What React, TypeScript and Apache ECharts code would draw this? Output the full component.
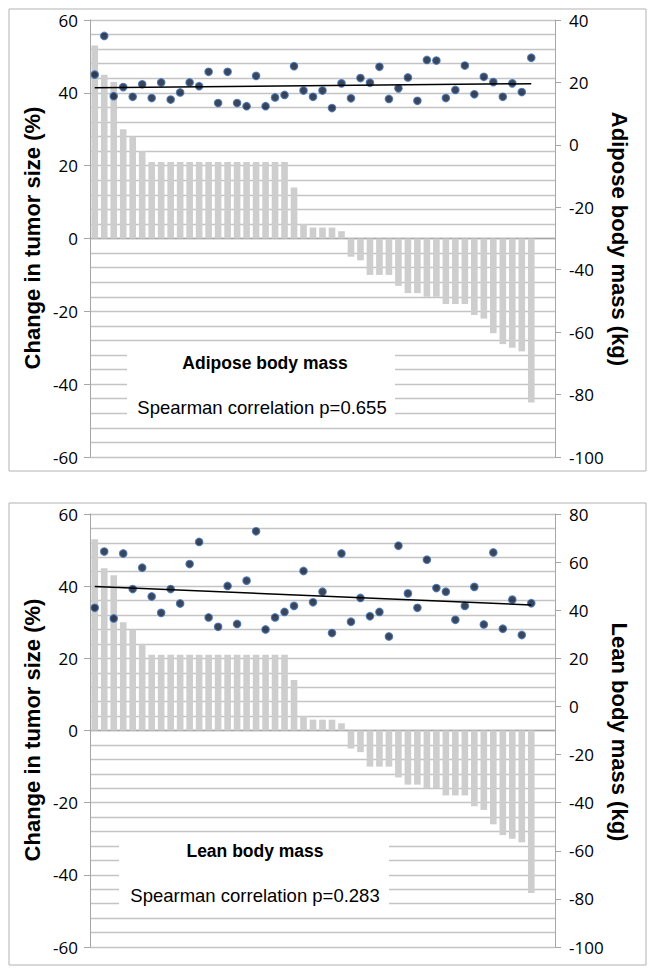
import React, { useEffect, useRef } from "react";
import * as echarts from "echarts";

const categories = Array.from({ length: 49 }, (_, i) => String(i + 1));

const tumorChange = [
  53, 45, 43, 30, 28, 24, 21, 21, 21, 21, 21, 21, 21, 21, 21, 21, 21, 21, 21, 21, 21,
  14, 4, 3, 3, 3, 2, -5, -6, -10, -10, -10, -13, -15, -15, -16, -16, -18, -18, -18,
  -21, -22, -26, -29, -30, -31, -45,
];

const adiposeMass = [
  22.5, 34.9, 15.6, 18.5, 15.4, 19.4, 15.0, 20.0, 14.5, 16.8,
  20.0, 18.8, 23.4, 13.4, 23.4, 13.4, 12.4, 22.1, 12.4, 15.2,
  16.0, 25.2, 17.4, 15.4, 17.4, 11.8, 19.7, 14.9, 21.4, 19.9,
  25.0, 14.7, 18.1, 21.6, 14.1, 27.2, 27.0, 15.0, 17.6, 25.4,
  16.2, 21.8, 20.1, 15.4, 19.7, 16.9, 27.9,
];

const leanMass = [
  41.0, 64.4, 36.6, 63.6, 48.8, 57.7, 45.7, 38.9, 48.8, 42.8,
  59.2, 68.4, 37.0, 33.1, 50.1, 34.3, 52.3, 72.8, 32.0, 37.0,
  39.3, 41.8, 56.3, 43.3, 47.7, 30.5, 63.6, 35.2, 45.1, 37.5,
  39.3, 29.1, 66.8, 47.0, 41.0, 61.0, 49.2, 47.7, 36.0, 41.8,
  49.7, 34.1, 64.0, 32.3, 44.4, 29.7, 42.9,
];

// trend line end values (first and last patient)
const adiposeTrend = [18.3, 19.6];
const leanTrend = [49.9, 42.2];

const leftTicks = { min: -60, max: 60, interval: 20 };
const adiposeTicks = { min: -100, max: 40, interval: 20 };
const leanTicks = { min: -100, max: 80, interval: 20 };

const GRID_COLOR = "#c4c4c4";
const AXIS_COLOR = "#a6a6a6";
const LABEL_FONT = "Open Sans";

function leftAxis(gridIndex: number) {
  return {
    type: "value",
    gridIndex,
    position: "left",
    ...leftTicks,
    axisLine: { show: true, lineStyle: { color: AXIS_COLOR, width: 1 } },
    axisTick: { show: true, length: 6, lineStyle: { color: AXIS_COLOR } },
    axisLabel: { fontSize: 17, color: "#000", fontFamily: LABEL_FONT, margin: 12 },
    splitLine: { show: true, lineStyle: { color: GRID_COLOR, width: 1.4 } },
    minorTick: { show: false, splitNumber: 5 },
    minorSplitLine: { show: true, lineStyle: { color: GRID_COLOR, width: 1.4 } },
  };
}

function rightAxis(gridIndex: number, ticks: { min: number; max: number; interval: number }) {
  return {
    type: "value",
    gridIndex,
    position: "right",
    ...ticks,
    axisLine: { show: true, lineStyle: { color: AXIS_COLOR, width: 1 } },
    axisTick: { show: true, length: 6, lineStyle: { color: AXIS_COLOR } },
    axisLabel: { fontSize: 17, color: "#000", fontFamily: LABEL_FONT, margin: 14, align: "left" },
    splitLine: { show: false },
  };
}

function xAxis(gridIndex: number, yIdx: number) {
  return {
    type: "category",
    gridIndex,
    data: categories,
    boundaryGap: true,
    axisLine: { show: true, onZero: true, onZeroAxisIndex: yIdx, lineStyle: { color: AXIS_COLOR, width: 1.4 } },
    axisTick: { show: false },
    axisLabel: { show: false },
    splitLine: { show: false },
  };
}

const dotStyle = { color: "#0c1630", borderColor: "#3f72b5", borderWidth: 1.2 };

function barSeries(xi: number, yi: number) {
  return {
    type: "bar",
    xAxisIndex: xi,
    yAxisIndex: yi,
    data: tumorChange,
    barCategoryGap: "30%",
    itemStyle: { color: "#cecece" },
    z: 2,
  };
}

function App() {
  const ref = useRef<HTMLDivElement>(null);
  useEffect(() => {
    const chart = echarts.init(ref.current!, null, { renderer: "svg" });
    const titleFont = 'bold 22px "Liberation Sans", Arial, sans-serif';
    const boldNote = 'bold 17.5px "Liberation Sans", Arial, sans-serif';
    const plainNote = '18.5px "Liberation Sans", Arial, sans-serif';
    const center = { align: "center", verticalAlign: "middle", textAlign: "center", textVerticalAlign: "middle", fill: "#000" };
    const option = {
      animation: false,
      grid: [
        { left: 90, top: 20, width: 465, height: 437 },
        { left: 90, top: 514, width: 465, height: 433 },
      ],
      xAxis: [xAxis(0, 0), xAxis(1, 2)],
      yAxis: [leftAxis(0), rightAxis(0, adiposeTicks), leftAxis(1), rightAxis(1, leanTicks)],
      series: [
        barSeries(0, 0),
        {
          type: "scatter",
          xAxisIndex: 0,
          yAxisIndex: 1,
          data: adiposeMass,
          symbolSize: 7.5,
          itemStyle: dotStyle,
          z: 4,
        },
        {
          type: "line",
          xAxisIndex: 0,
          yAxisIndex: 1,
          data: [[0, adiposeTrend[0]], [adiposeMass.length - 1, adiposeTrend[1]]],
          symbol: "none",
          lineStyle: { color: "#000", width: 1.5 },
          z: 5,
        },
        barSeries(1, 2),
        {
          type: "scatter",
          xAxisIndex: 1,
          yAxisIndex: 3,
          data: leanMass,
          symbolSize: 7.5,
          itemStyle: dotStyle,
          z: 4,
        },
        {
          type: "line",
          xAxisIndex: 1,
          yAxisIndex: 3,
          data: [[0, leanTrend[0]], [leanMass.length - 1, leanTrend[1]]],
          symbol: "none",
          lineStyle: { color: "#000", width: 1.5 },
          z: 5,
        },
      ],
      graphic: [
        { type: "rect", shape: { x: 9, y: 9, width: 637, height: 462 }, style: { fill: "none", stroke: "#b3b3b3", lineWidth: 1 }, z: 1 },
        { type: "rect", shape: { x: 9, y: 503, width: 637, height: 462 }, style: { fill: "none", stroke: "#b3b3b3", lineWidth: 1 }, z: 1 },
        { type: "rect", shape: { x: 127, y: 346, width: 268, height: 72 }, style: { fill: "#fff" }, z: 50 },
        { type: "rect", shape: { x: 119, y: 838, width: 270, height: 74 }, style: { fill: "#fff" }, z: 50 },
        { type: "text", x: 265, y: 363, z: 60, style: { text: "Adipose body mass", font: boldNote, ...center } },
        { type: "text", x: 262, y: 407, z: 60, style: { text: "Spearman correlation p=0.655", font: plainNote, ...center } },
        { type: "text", x: 255, y: 851, z: 60, style: { text: "Lean body mass", font: boldNote, ...center } },
        { type: "text", x: 255, y: 895, z: 60, style: { text: "Spearman correlation p=0.283", font: plainNote, ...center } },
        { type: "text", x: 32, y: 238, rotation: Math.PI / 2, z: 60, style: { text: "Change in tumor size (%)", font: titleFont, ...center } },
        { type: "text", x: 619, y: 239, rotation: -Math.PI / 2, z: 60, style: { text: "Adipose body mass (kg)", font: titleFont, ...center } },
        { type: "text", x: 32, y: 730, rotation: Math.PI / 2, z: 60, style: { text: "Change in tumor size (%)", font: titleFont, ...center } },
        { type: "text", x: 619, y: 732, rotation: -Math.PI / 2, z: 60, style: { text: "Lean body mass (kg)", font: titleFont, ...center } },
      ],
    };
    chart.setOption(option as any);
    return () => chart.dispose();
  }, []);
  return (
    <div
      ref={ref}
      style={{ position: "absolute", left: 0, top: 0, width: 655, height: 974, background: "#fff" }}
    />
  );
}

export default App;
